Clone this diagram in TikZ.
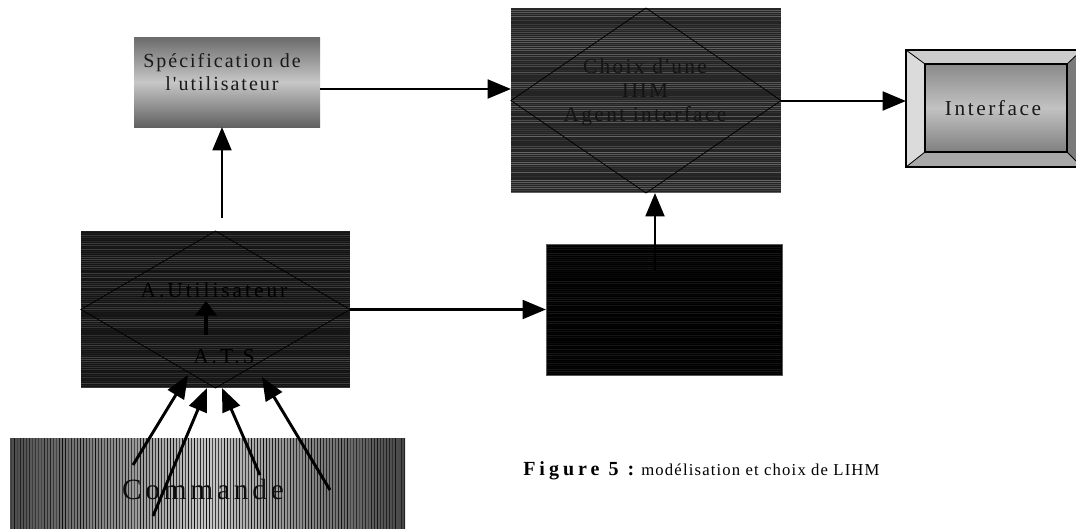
\documentclass[tikz,border=0pt]{standalone}
\usepackage{fontspec}
\setmainfont{Liberation Serif}
\newfontfamily\lsten[LetterSpace=10]{Liberation Serif}
\newfontfamily\lseight[LetterSpace=11]{Liberation Serif}
\newfontfamily\lstwelve[LetterSpace=12]{Liberation Serif}
\newfontfamily\lsfourteen[LetterSpace=14]{Liberation Serif}
\newfontfamily\lsthirteen[LetterSpace=13]{Liberation Serif}
\newfontfamily\lscap[LetterSpace=7]{Liberation Serif}
\newfontfamily\lscapb[LetterSpace=20]{Liberation Serif}
\usetikzlibrary{arrows.meta}
\begin{document}
\begin{tikzpicture}[x=0.75pt,y=-0.75pt,
  arr/.style={-{Triangle[length=17.5pt,width=14pt]}, line width=2.2pt},
  smallarr/.style={-{Triangle[length=11pt,width=16pt]}, line width=2.4pt},
  boxnode/.style={rectangle, inner sep=0pt, outer sep=0pt},
  diam/.style={draw=black, line width=0.6pt},
  lbl/.style={inner sep=0pt, align=center}]
\useasboundingbox (0,0) rectangle (1076,529);
\fill[white] (0,0) rectangle (1076,529);
\pgfmathsetseed{7}

% ---------- Spécification de l'utilisateur ----------
\node[boxnode, minimum width=186*0.75pt, minimum height=90*0.75pt,
  top color=black!58, bottom color=black!62, middle color=black!22] (spec) at (227,82) {};
\node[lbl, font=\lsten\fontsize{15}{17.5}\selectfont, text=black!90] (spect) at (222,72)
  {Spécification de\\l'utilisateur};

% ---------- Choix d'une IHM ----------
\node[boxnode, minimum width=270*0.75pt, minimum height=185*0.75pt, fill=black!86] (choix) at (646,100.5) {};
\foreach \i in {0,...,92} {
  \pgfmathsetmacro\c{int(60+28*rnd)}
  \fill[black!\c] (511,8+2*\i) rectangle (781,9+2*\i);
}
\draw[diam] (choix.north) -- (choix.east) -- (choix.south) -- (choix.west) -- cycle;
\node[lbl, font=\lseight\fontsize{16}{18}\selectfont, text=black!92] (choixt) at (645,92)
  {Choix d'une\\IHM\\Agent interface};

% ---------- Interface (bevelled button) ----------
\node[boxnode, minimum width=176*0.75pt, minimum height=117*0.75pt] (iface) at (994,108.5) {};
\node[boxnode, minimum width=142*0.75pt, minimum height=88*0.75pt] (face) at (996,108) {};
\fill[black!14] (iface.north west) -- (face.north west) -- (face.south west) -- (iface.south west) -- cycle;
\fill[black!20] (iface.north west) -- (iface.north east) -- (face.north east) -- (face.north west) -- cycle;
\fill[black!52] (iface.north east) -- (iface.south east) -- (face.south east) -- (face.north east) -- cycle;
\fill[black!34] (iface.south west) -- (face.south west) -- (face.south east) -- (iface.south east) -- cycle;
\shade[top color=black!46, bottom color=black!50, middle color=black!24]
  (face.north west) rectangle (face.south east);
\draw[line width=0.8pt] (iface.north west) rectangle (iface.south east);
\draw[line width=0.8pt] (face.north west) rectangle (face.south east);
\draw[line width=0.6pt] (iface.north west) -- (face.north west)
  (iface.south west) -- (face.south west) (iface.north east) -- (face.north east)
  (iface.south east) -- (face.south east);
\node[lbl, font=\lstwelve\fontsize{16}{18}\selectfont, text=black!90] (ifacet) at (993,108) {Interface};

% ---------- A.Utilisateur / A.T.S ----------
\node[boxnode, minimum width=269*0.75pt, minimum height=157*0.75pt, fill=black!92] (util) at (215.5,309.5) {};
\foreach \i in {0,...,78} {
  \pgfmathsetmacro\c{int(74+20*rnd)}
  \fill[black!\c] (81,231+2*\i) rectangle (350,232+2*\i);
}
\draw[diam] (util.north) -- (util.east) -- (util.south) -- (util.west) -- cycle;
\node[lbl, font=\lsfourteen\fontsize{16}{18}\selectfont, text=black] (au) at (214,290) {A.Utilisateur};
\node[lbl, font=\lsfourteen\fontsize{16}{18}\selectfont, text=black] (ats) at (224,357) {A.T.S};
\coordinate (ia) at (206,335);
\coordinate (ib) at (206,301);
\draw[smallarr] (ia) -- (ib);

% ---------- black box ----------
\node[boxnode, minimum width=236*0.75pt, minimum height=131*0.75pt, fill=black, draw=black!65, line width=0.6pt] (blk) at (664,309.5) {};
\foreach \i in {0,...,64} {
  \pgfmathsetmacro\c{int(90+10*rnd)}
  \fill[black!\c] (547,245+2*\i) rectangle (781,246+2*\i);
}

% ---------- Commande ----------
\node[boxnode, minimum width=395*0.75pt, minimum height=92*0.75pt,
  left color=black!70, right color=black!72, middle color=black!22] (cmd) at (207.5,484) {};
\foreach \i in {0,...,131} {
  \pgfmathsetmacro\c{int(70+25*rnd)}
  \draw[black!\c, line width=0.9pt] (11.5+3*\i,438) -- (11.5+3*\i,530);
}
\node[lbl, font=\lsthirteen\fontsize{22}{24}\selectfont, text=black!95] (cmdt) at (203,489) {Commande};

% ---------- connectors ----------
\draw[arr] (spec.east |- 0,89) -- (choix.west |- 0,89);
\draw[arr] (choix.east |- 0,101) -- (iface.west |- 0,101);
\coordinate (u1) at (222,218);
\draw[arr] (u1) -- (spec.south -| u1);
\draw[arr] (util.east) -- (blk.west);
\coordinate (b1) at (655,270);
\draw[arr] (b1) -- (choix.south -| b1);

\coordinate (c1) at (133,465); \coordinate (h1) at (188,375);
\coordinate (c2) at (153,516); \coordinate (h2) at (207,388);
\coordinate (c3) at (260,475); \coordinate (h3) at (222,388);
\coordinate (c4) at (330,490); \coordinate (h4) at (262,377);
\draw[arr] (c1) -- (h1);
\draw[arr] (c2) -- (h2);
\draw[arr] (c3) -- (h3);
\draw[arr] (c4) -- (h4);

% ---------- caption ----------
\node[inner sep=0pt, anchor=base west, font=\lscap\fontsize{12.5}{15}\selectfont] (cap) at (523,475)
  {{\lscapb\bfseries\fontsize{15}{17}\selectfont Figure 5 :} modélisation et choix de LIHM};
\end{tikzpicture}
\end{document}
